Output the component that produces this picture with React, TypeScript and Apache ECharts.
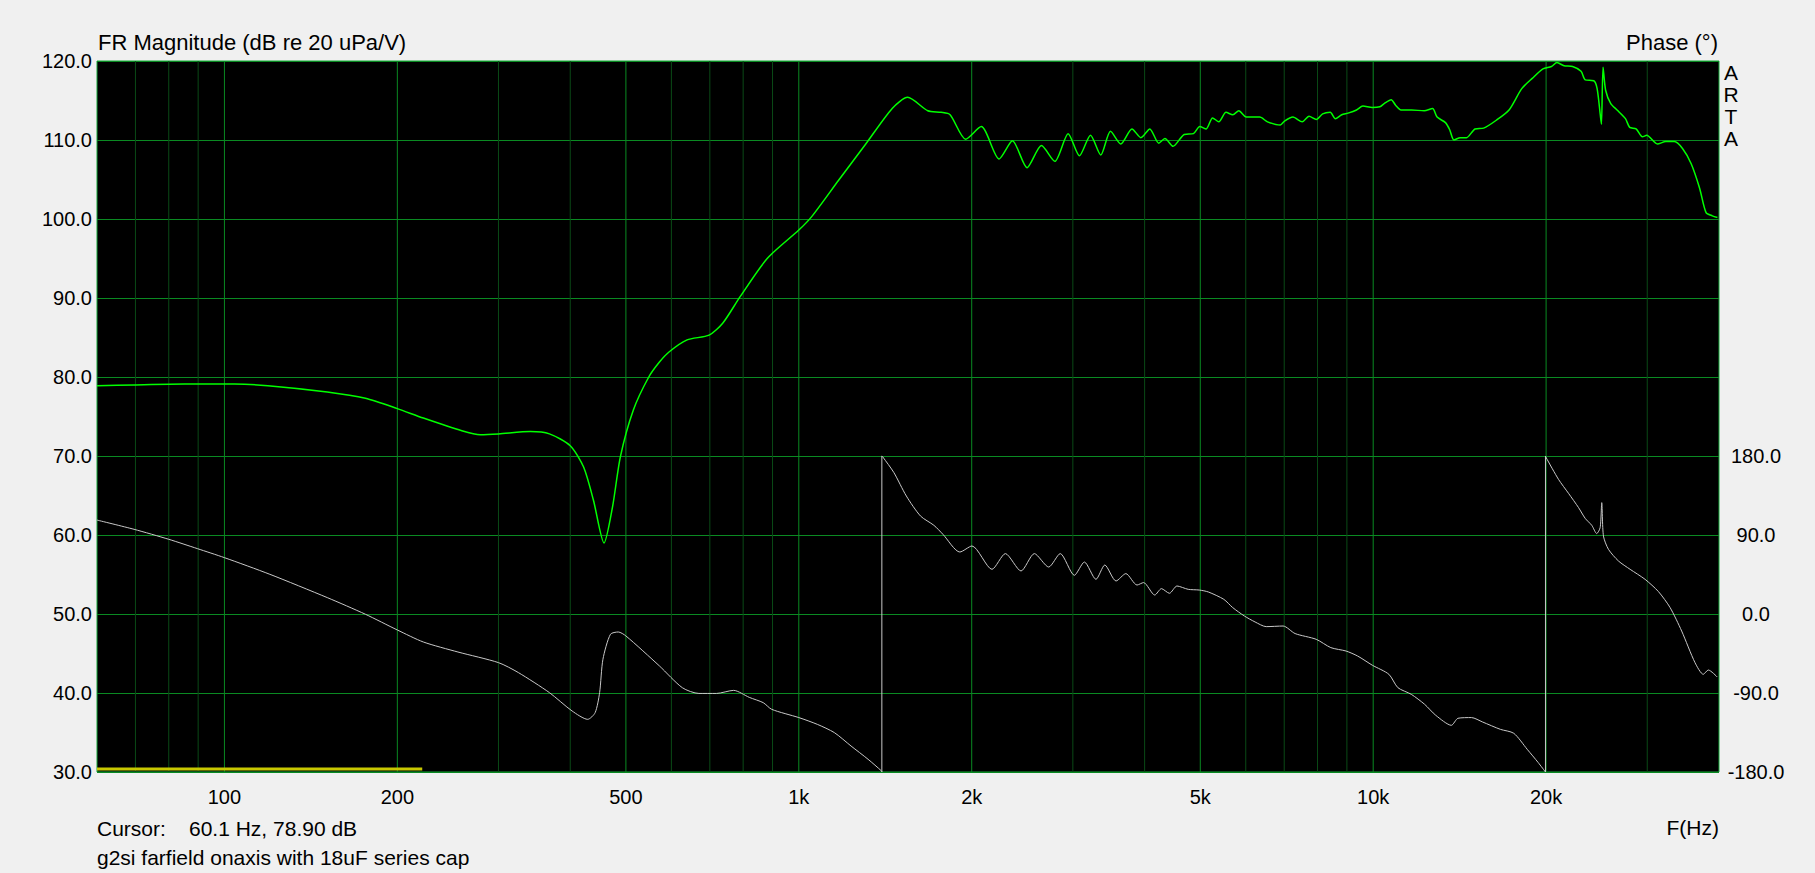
import React, { useEffect, useRef } from "react";
import * as echarts from "echarts";

// ---- data ----
const magFreq = [
  60, 69.6, 85.2, 104, 119, 151, 176, 200, 222, 259,
  279, 300, 341, 368, 400, 422, 439, 458, 474, 489,
  515, 548, 572, 595, 639, 698, 737, 791, 881, 1000,
  1053, 1173, 1305, 1454, 1547, 1677, 1769, 1834, 1952, 2078,
  2232, 2355, 2497, 2645, 2791, 2944, 3080, 3220, 3355, 3489,
  3636, 3802, 3941, 4084, 4233, 4339, 4483, 4688, 4864, 4990,
  5120, 5252, 5386, 5543, 5697, 5835, 6012, 6346, 6546, 6891,
  7008, 7249, 7525, 7732, 7960, 8166, 8418, 8592, 8815, 9041,
  9354, 9596, 9960, 10270, 10450, 10750, 10940, 11180, 11660, 12270,
  12690, 12920, 13360, 13590, 13820, 14180, 14540, 15040, 15570, 16380,
  17240, 18140, 18920, 19750, 20430, 20890, 21490, 22240, 23010, 23400,
  24210, 24540, 24870, 24970, 25130, 25390, 25920, 26580, 27490, 27960,
  28690, 29430, 29940, 31240, 32320, 33440, 34580, 35780, 37010, 37980,
  38940, 39750,
];
const magDb = [
  78.9, 79.0, 79.1, 79.1, 78.9, 78.1, 77.3, 76.0, 74.8, 73.2,
  72.7, 72.8, 73.1, 72.8, 71.3, 68.6, 64.4, 59.0, 63.6, 69.9,
  75.8, 80.0, 81.9, 83.2, 84.7, 85.3, 86.8, 90.2, 95.0, 98.6,
  100.3, 104.9, 109.4, 114.0, 115.4, 113.7, 113.5, 113.2, 110.1, 111.7,
  107.6, 109.9, 106.5, 109.3, 107.3, 110.8, 108.0, 110.6, 108.1, 111.1,
  109.5, 111.4, 110.3, 111.4, 109.6, 110.2, 109.2, 110.7, 110.8, 111.7,
  111.4, 112.8, 112.3, 113.5, 113.2, 113.7, 112.9, 112.9, 112.3, 111.9,
  112.4, 112.9, 112.3, 113.0, 112.6, 113.3, 113.5, 112.7, 113.2, 113.4,
  113.8, 114.3, 114.1, 114.2, 114.6, 115.1, 114.4, 113.8, 113.8, 113.7,
  114.0, 112.9, 112.2, 111.3, 110.0, 110.3, 110.3, 111.4, 111.5, 112.5,
  113.8, 116.5, 117.8, 119.0, 119.3, 119.8, 119.4, 119.3, 118.7, 117.6,
  117.5, 116.5, 113.0, 112.0, 119.2, 116.3, 114.6, 113.8, 112.7, 111.6,
  111.4, 110.4, 110.6, 109.5, 109.8, 109.8, 108.9, 107.0, 103.9, 100.8,
  100.4, 100.2,
];
const phaseFreq = [
  60, 69.6, 80, 89.7, 100, 120, 151, 176, 200, 222,
  255, 300, 325, 368, 403, 429, 442, 450, 456, 470,
  485, 500, 572, 627, 670, 719, 770, 820, 867, 897,
  1000, 1077, 1153, 1233, 1320, 1394, 1395, 1395, 1400, 1464,
  1539, 1629, 1719, 1782, 1907, 2002, 2169, 2289, 2437, 2571,
  2723, 2852, 3018, 3142, 3291, 3410, 3567, 3710, 3880, 3983,
  4166, 4279, 4418, 4554, 4764, 4980, 5163, 5495, 5694, 5968,
  6229, 6513, 6969, 7313, 7956, 8438, 8970, 9396, 9968, 10650,
  11040, 11650, 12290, 12850, 13680, 14050, 14830, 15500, 16650, 17570,
  18540, 19380, 19950, 19950, 19970, 21020, 21880, 22780, 23390, 24020,
  24500, 24840, 25000, 25170, 25680, 26730, 28010, 29740, 31380, 32880,
  34440, 36330, 37560, 38320, 39720,
];
const phaseDeg = [
  107, 96.5, 85.1, 74.5, 64.2, 45.2, 18.7, -0.3, -18.2, -31.9,
  -43.3, -55.4, -66.8, -89.6, -110.5, -120, -112.4, -89.6, -51.6, -23.1,
  -20.5, -25, -59.2, -84, -90.5, -90.5, -87, -95, -101, -108.6,
  -118, -125.7, -135.1, -150.4, -165.5, -179, -180, 180, 179, 161.1,
  134.4, 111.6, 101.0, 90.8, 70.6, 77.5, 50.9, 68.8, 49.0, 68.8,
  53.5, 68.8, 44.1, 59.2, 39.5, 55.8, 37.6, 46.0, 33.0, 35.8,
  21.6, 28.9, 23.6, 31.9, 28.1, 27.3, 25.1, 16.7, 7.3, -2.3,
  -9.1, -14.4, -13.7, -22.3, -28.8, -38.3, -42.2, -47.9, -58.4, -68.7,
  -83.9, -91.5, -102.9, -115.4, -126.8, -118.8, -118.0, -123.0, -131.4, -135.9,
  -154.1, -169.3, -180, 180, 179, 153.4, 137.5, 121.2, 109.0, 101.0,
  91.6, 98.4, 126.9, 88.8, 73.7, 60.4, 50.9, 39.5, 25.5, 7.3,
  -19.4, -55.4, -68.7, -63.8, -71.8,
];
const gateFreq = [60, 221];
const gateDb = [30.38, 30.38];

const majorGridFreq = [100, 200, 500, 1000, 2000, 5000, 10000, 20000];
const majorGridLabels = ["100", "200", "500", "1k", "2k", "5k", "10k", "20k"];
const minorGridFreq = [70, 80, 90, 300, 400, 600, 700, 800, 900, 3000, 4000, 6000, 7000, 8000, 9000, 30000];

const freqMin = 60;
const freqMax = 40000;
const dbMin = 30;
const dbMax = 120;
const dbStep = 10;
const phaseMin = -180;
const phaseMax = 630;
const phaseStep = 90;
const phaseLabelMax = 180;

const leftTitle = "FR Magnitude (dB re 20 uPa/V)";
const rightTitle = "Phase (°)";
const brandText = "A\nR\nT\nA";
const cursorLabel = "Cursor:";
const cursorValue = "60.1 Hz, 78.90 dB";
const noteText = "g2si farfield onaxis with 18uF series cap";
const xTitle = "F(Hz)";

const FONT = '"Liberation Sans", Arial, sans-serif';
const MAJOR = "#0a8a22";
const MINOR = "#0a4a16";
const PHASE_COLOR = "#c8c8c8";

function txt(x: number, y: number, text: string, size: number, align: string, vAlign = "middle", extra: any = {}) {
  return {
    type: "text",
    x,
    y,
    silent: true,
    style: {
      text,
      font: `${size}px ${FONT}`,
      fill: "#000",
      align,
      verticalAlign: vAlign,
      textAlign: align,
      textVerticalAlign: vAlign,
      ...extra,
    },
  };
}

// one vertical grid line as a plain two-point line series
function gridLine(f: number, color: string) {
  return {
    type: "line",
    name: "grid" + f,
    yAxisIndex: 0,
    data: [[f, dbMin], [f, dbMax]],
    symbol: "none",
    showSymbol: false,
    silent: true,
    z: 1,
    lineStyle: { color, width: 1 },
  };
}

function labelSeries(freqs: number[], labels: string[]) {
  return {
    type: "custom",
    name: "xLabels",
    silent: true,
    z: 1,
    xAxisIndex: 0,
    yAxisIndex: 0,
    data: freqs.map((f, i) => [f, i]),
    encode: { x: 0 },
    clip: false,
    renderItem: (params: any, api: any) => {
      const f = api.value(0);
      const i = api.value(1);
      const p = api.coord([f, dbMin]);
      return {
        type: "text",
        x: p[0],
        y: p[1] + 25,
        silent: true,
        style: {
          text: labels[i],
          font: `20px ${FONT}`,
          fill: "#000",
          align: "center",
          verticalAlign: "middle",
        },
      };
    },
  };
}

// split phase trace at its ±180° wraps
function phaseParts() {
  const segs: number[][][] = [];
  const wraps: number[][][] = [];
  let cur: number[][] = [];
  for (let i = 0; i < phaseFreq.length; i++) {
    const pt = [phaseFreq[i], phaseDeg[i]];
    if (i > 0 && phaseFreq[i] === phaseFreq[i - 1]) {
      segs.push(cur);
      wraps.push([[phaseFreq[i - 1], phaseDeg[i - 1]], pt]);
      cur = [pt];
    } else {
      cur.push(pt);
    }
  }
  segs.push(cur);
  return { segs, wraps };
}

export default function App() {
  const ref = useRef<HTMLDivElement>(null);

  useEffect(() => {
    const chart = echarts.init(ref.current!, null, { renderer: "svg" });
    const { segs, wraps } = phaseParts();

    const phaseSeries = [
      ...segs.map((s, k) => ({
        type: "line",
        name: "phase" + k,
        yAxisIndex: 1,
        data: s,
        symbol: "none",
        showSymbol: false,
        silent: true,
        smooth: 0.25,
        z: 4,
        lineStyle: { color: PHASE_COLOR, width: 1 },
      })),
      ...wraps.map((w, k) => ({
        type: "line",
        name: "wrap" + k,
        yAxisIndex: 1,
        data: w,
        symbol: "none",
        showSymbol: false,
        silent: true,
        z: 4,
        lineStyle: { color: PHASE_COLOR, width: 1 },
      })),
    ];

    chart.setOption({
      animation: false,
      backgroundColor: "#f0f0f0",
      textStyle: { fontFamily: FONT },
      grid: {
        left: 97,
        top: 61,
        right: 96,
        bottom: 101,
        show: true,
        backgroundColor: "#000",
        borderColor: "#16a83a",
        borderWidth: 1,
      },
      xAxis: {
        type: "log",
        logBase: 10,
        min: freqMin,
        max: freqMax,
        axisLine: { show: false },
        axisTick: { show: false },
        axisLabel: { show: false },
        splitLine: { show: false },
        minorTick: { show: false },
        minorSplitLine: { show: false },
      },
      yAxis: [
        {
          type: "value",
          min: dbMin,
          max: dbMax,
          interval: dbStep,
          axisLine: { show: false },
          axisTick: { show: false },
          axisLabel: {
            margin: 5,
            color: "#000",
            fontSize: 20,
            fontFamily: FONT,
            formatter: (v: number) => v.toFixed(1),
          },
          splitLine: { show: true, lineStyle: { color: MAJOR, width: 1 } },
        },
        {
          type: "value",
          position: "right",
          min: phaseMin,
          max: phaseMax,
          interval: phaseStep,
          axisLine: { show: false },
          axisTick: { show: false },
          splitLine: { show: false },
          axisLabel: {
            margin: 37,
            align: "center",
            color: "#000",
            fontSize: 20,
            fontFamily: FONT,
            formatter: (v: number) => (v <= phaseLabelMax ? v.toFixed(1) : ""),
          },
        },
      ],
      series: [
        ...minorGridFreq.map((f) => gridLine(f, MINOR)),
        ...majorGridFreq.map((f) => gridLine(f, MAJOR)),
        labelSeries(majorGridFreq, majorGridLabels),
        {
          type: "line",
          name: "gate",
          yAxisIndex: 0,
          data: gateFreq.map((f, i) => [f, gateDb[i]]),
          symbol: "none",
          showSymbol: false,
          silent: true,
          z: 3,
          lineStyle: { color: "#c8c800", width: 3 },
        },
        ...phaseSeries,
        {
          type: "line",
          name: "magnitude",
          yAxisIndex: 0,
          data: magFreq.map((f, i) => [f, magDb[i]]),
          symbol: "none",
          showSymbol: false,
          silent: true,
          smooth: 0.25,
          z: 5,
          lineStyle: { color: "#00ff00", width: 1.5 },
        },
      ],
      graphic: [
        txt(98, 42, leftTitle, 22, "left"),
        txt(1718, 42, rightTitle, 22, "right"),
        txt(1731, 61, brandText, 21, "center", "top", { lineHeight: 22 }),
        txt(97, 828, cursorLabel, 21, "left"),
        txt(189, 828, cursorValue, 21, "left"),
        txt(97, 857, noteText, 21, "left"),
        txt(1719, 827, xTitle, 21, "right"),
      ],
    });
    return () => chart.dispose();
  }, []);

  return (
    <div
      ref={ref}
      style={{ position: "absolute", left: 0, top: 0, width: 1815, height: 873, background: "#f0f0f0" }}
    />
  );
}
